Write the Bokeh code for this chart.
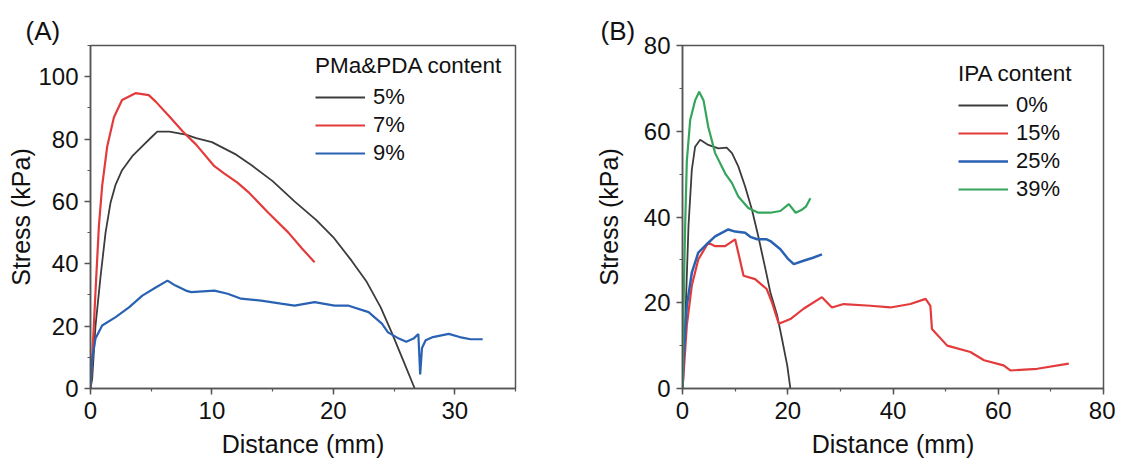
from bokeh.plotting import figure
from bokeh.layouts import row
from bokeh.models import Legend, LegendItem, SingleIntervalTicker, Range1d
from bokeh.embed import file_html
from bokeh.resources import INLINE

# ---------------- Panel A data (PMa&PDA content) ----------------
a5_x = [0, 0.14, 0.41, 0.83, 1.24, 1.65, 2.07, 2.6, 3.44, 4.27, 5.1, 5.5, 6.5, 7.85, 8.7, 10, 11, 12, 13.3, 15, 16.8, 18.6, 20, 21.5, 22.7, 23.9, 24.8, 25.7, 26.7]
a5_y = [0, 3.2, 20, 36, 50, 59.6, 65.4, 70, 74.5, 77.7, 80.9, 82.4, 82.4, 81.4, 80.3, 79, 77, 75, 71.5, 66.5, 60, 54, 48.5, 41, 34.5, 26, 18, 9.5, 0]

a7_x = [0, 0.14, 0.41, 0.69, 0.96, 1.38, 1.93, 2.6, 3.7, 4.8, 5.37, 6.5, 7.6, 8.7, 10.2, 11, 12.1, 13, 14.6, 16.3, 17.4, 18.45]
a7_y = [0, 9.6, 30.9, 52, 65, 77.7, 87, 92.5, 94.7, 94.1, 92, 87.2, 82.4, 78.2, 71.3, 69, 66, 63, 56.5, 50, 45, 40.5]

a9_x = [0, 0.14, 0.41, 0.96, 2.07, 3.17, 4.27, 5.37, 6.34, 7.0, 7.85, 8.3, 10.2, 11.3, 12.4, 14.05, 15.7, 16.8, 18.45, 20.1, 21.2, 22.9, 24.0, 24.5, 25.4, 26.0, 26.6, 27.0, 27.15, 27.3, 27.6, 28.2, 29.5, 30.4, 31.3, 32.3]
a9_y = [0, 9.6, 16, 20.2, 22.9, 26, 29.8, 32.4, 34.6, 33, 31.4, 30.9, 31.4, 30.4, 28.8, 28.2, 27.2, 26.6, 27.7, 26.6, 26.6, 24.5, 20.8, 18, 16, 15, 16, 17.5, 4.5, 13, 15.5, 16.5, 17.5, 16.5, 15.8, 15.8]

a_labels = ["5%", "7%", "9%"]

# ---------------- Panel B data (IPA content) ----------------
b0_x = [0, 0.5, 1.14, 1.77, 2.4, 3.36, 4.9, 6.8, 8.4, 9.4, 10.6, 11.9, 13.2, 14.4, 16, 16.7, 18, 18.9, 19.9, 20.5]
b0_y = [0, 14.7, 37.9, 51, 56.4, 58, 56.8, 56, 56.2, 54.9, 51.8, 47.1, 41.7, 35.5, 26.5, 22.4, 17, 11.6, 5.4, 0]

b15_x = [0, 0.19, 0.82, 1.77, 3.0, 4.9, 6.2, 8.1, 10, 10.9, 11.6, 13.8, 16, 17, 18.3, 20.5, 23, 26.5, 28.4, 30.6, 35.7, 39.5, 43.3, 46.2, 47.1, 47.4, 50.3, 54.7, 57.3, 61, 62.3, 67.4, 73.4]
b15_y = [0, 3, 14.7, 24, 30.1, 34, 33.2, 33.2, 34.8, 30.1, 26.3, 25.5, 23.2, 20.1, 15.1, 16.2, 18.6, 21.3, 18.9, 19.7, 19.3, 18.9, 19.7, 20.9, 19.3, 13.9, 10, 8.5, 6.6, 5.4, 4.2, 4.6, 5.8]

b25_x = [0, 0.19, 0.82, 1.77, 3.0, 4.9, 6.2, 8.7, 10, 11.9, 13, 14.2, 16, 16.7, 18.6, 20, 21.15, 23, 24.8, 26.5]
b25_y = [0, 7, 19.3, 27, 31.7, 34, 35.5, 37.1, 36.6, 36.3, 35.3, 34.8, 34.8, 34.4, 32.5, 30.3, 29, 29.8, 30.5, 31.3]

b39_x = [0, 0.19, 0.5, 0.82, 1.46, 2.4, 3.17, 4.0, 4.9, 6.2, 8.1, 9.4, 10.6, 12.5, 14.4, 16.7, 18.6, 20.2, 21.5, 22.7, 23.5, 24.3]
b39_y = [0, 18.5, 37.9, 53, 62.6, 67.2, 69.2, 67.2, 61, 54.9, 50.2, 47.9, 44.8, 42.1, 41, 41, 41.4, 43, 41, 41.7, 42.5, 44.4]

b_labels = ["0%", "15%", "25%", "39%"]

BLACK = "#3c3c3c"
RED = "#e33b3b"
BLUE = "#2a62b3"
GREEN = "#35a55c"
FONT = "Liberation Sans"
AX = "#555555"
TXT = "#111111"


def style(p, xint, yint, tag, tag_offset, ylab_standoff):
    p.xaxis.ticker = SingleIntervalTicker(interval=xint, num_minor_ticks=2)
    p.yaxis.ticker = SingleIntervalTicker(interval=yint, num_minor_ticks=2)
    for ax in (p.xaxis, p.yaxis):
        ax.axis_line_color = AX
        ax.axis_line_width = 1.5
        ax.major_tick_line_color = AX
        ax.minor_tick_line_color = AX
        ax.major_tick_line_width = 1.5
        ax.minor_tick_line_width = 1.2
        ax.major_tick_out = 6
        ax.major_tick_in = 0
        ax.minor_tick_out = 3
        ax.minor_tick_in = 0
        ax.major_label_text_font = FONT
        ax.major_label_text_font_size = "24px"
        ax.major_label_text_color = TXT
        ax.axis_label_text_font = FONT
        ax.axis_label_text_font_size = "25px"
        ax.axis_label_text_font_style = "normal"
        ax.axis_label_text_color = TXT
    p.xaxis.major_label_standoff = 7
    p.xaxis.axis_label_standoff = 8
    p.yaxis.major_label_standoff = 6
    p.yaxis.axis_label_standoff = ylab_standoff
    p.xgrid.visible = False
    p.ygrid.visible = False
    p.outline_line_color = AX
    p.outline_line_width = 1.5
    p.outline_line_alpha = 1.0
    p.title.text = tag
    p.title.align = "left"
    p.title.offset = tag_offset
    p.title.standoff = 0
    p.title.text_font = FONT
    p.title.text_font_size = "26px"
    p.title.text_font_style = "normal"
    p.title.text_color = TXT


def make_legend(p, title, items, loc):
    lg = Legend(items=items, title=title, location=loc)
    lg.title_text_font = FONT
    lg.title_text_font_size = "22.5px"
    lg.title_text_font_style = "normal"
    lg.title_text_color = TXT
    lg.title_standoff = 5
    lg.label_text_font = FONT
    lg.label_text_font_size = "22px"
    lg.label_text_color = TXT
    lg.glyph_width = 50
    lg.glyph_height = 22
    lg.label_height = 22
    lg.label_standoff = 8
    lg.spacing = 2
    lg.padding = 0
    lg.margin = 0
    lg.background_fill_alpha = 0
    lg.border_line_alpha = 0
    p.add_layout(lg)


# ---------------- Figure A ----------------
pa = figure(width=560, height=460, output_backend="svg", toolbar_location=None,
            x_range=Range1d(0, 35), y_range=Range1d(0, 110),
            x_axis_label="Distance (mm)", y_axis_label="Stress (kPa)",
            min_border_left=90, min_border_right=45, min_border_top=45, min_border_bottom=70)
style(pa, 10, 20, "(A)", -65, 0)
ra5 = pa.line(a5_x, a5_y, line_color=BLACK, line_width=1.8)
ra7 = pa.line(a7_x, a7_y, line_color=RED, line_width=2.2)
ra9 = pa.line(a9_x, a9_y, line_color=BLUE, line_width=2.2)
make_legend(pa, "PMa&PDA content",
            [LegendItem(label=a_labels[0], renderers=[ra5]),
             LegendItem(label=a_labels[1], renderers=[ra7]),
             LegendItem(label=a_labels[2], renderers=[ra9])], (225, 222))

# ---------------- Figure B ----------------
pb = figure(width=555, height=460, output_backend="svg", toolbar_location=None,
            x_range=Range1d(0, 80), y_range=Range1d(0, 80),
            x_axis_label="Distance (mm)", y_axis_label="Stress (kPa)",
            min_border_left=122, min_border_right=12, min_border_top=45, min_border_bottom=70)
style(pb, 20, 20, "(B)", -82, 18)
rb0 = pb.line(b0_x, b0_y, line_color=BLACK, line_width=1.8)
rb15 = pb.line(b15_x, b15_y, line_color=RED, line_width=2.2)
rb25 = pb.line(b25_x, b25_y, line_color=BLUE, line_width=2.5)
rb39 = pb.line(b39_x, b39_y, line_color=GREEN, line_width=2.2)
make_legend(pb, "IPA content",
            [LegendItem(label=b_labels[0], renderers=[rb0]),
             LegendItem(label=b_labels[1], renderers=[rb15]),
             LegendItem(label=b_labels[2], renderers=[rb25]),
             LegendItem(label=b_labels[3], renderers=[rb39])], (276, 186))

layout = row(pa, pb)
open("out.html", "w").write(file_html(layout, INLINE))
